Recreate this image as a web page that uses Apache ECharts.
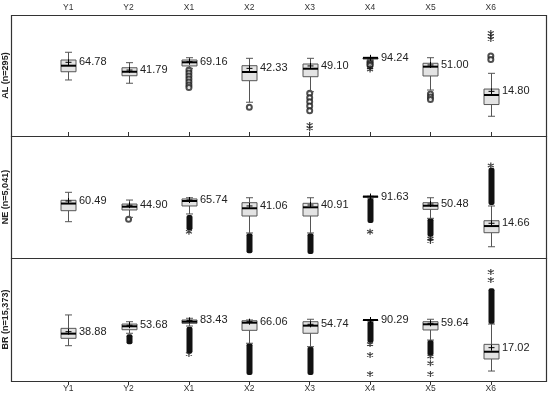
<!DOCTYPE html>
<html><head><meta charset="utf-8">
<script src="https://cdn.jsdelivr.net/npm/echarts@6/dist/echarts.min.js"></script>
<style>html,body{margin:0;padding:0;background:#fff}#c{width:550px;height:398px}</style>
</head><body><div id="c"></div>
<script>
const categories = ['Y1','Y2','X1','X2','X3','X4','X5','X6'];
const panelNames = ['AL (n=295)','NE (n=5,041)','BR (n=15,373)'];

// box stats in panel plot units: [low whisker, q1, median, q3, high whisker]
const alBoxes = [[46.3,53.1,58.1,62.8,69.2],[43.6,49.8,53.1,56.4,60.6],[55.9,57.9,60.9,62.8,64.7],[27.9,45.7,52.9,58.1,64.2],[36.6,49.0,55.6,59.5,64.2],[62.8,63.6,64.6,64.6,64.9],[38.0,49.6,57.3,60.1,64.7],[16.3,26.0,33.9,38.8,51.8]];
const alMeans = [60.9,54.5,61.4,55.9,57.9,64.6,58.7,36.9];
const alMeanLabels = ['64.78','41.79','69.16','42.33','49.10','94.24','51.00','14.80'];
const alCircles = [[2,54.5],[2,52.1],[2,49.6],[2,47.1],[2,44.6],[2,42.1],[2,40.1],[3,23.7],[4,35.3],[4,31.7],[4,28.3],[4,24.8],[4,20.9],[5,61.8],[5,60.6],[5,59.4],[5,58.2],[6,34.7],[6,32.2],[6,30.2],[7,66.1],[7,63.2]];
const alStars = [[4,9.1],[4,6.4],[5,56.6],[5,55.0],[7,85.1],[7,82.6],[7,80.2]];
const alBands = [];

const neBoxes = [[30.0,39.1,45.0,47.7,54.3],[33.6,39.7,42.4,44.6,47.9],[36.4,43.0,47.1,48.8,49.8],[20.7,34.7,41.1,45.7,49.8],[20.7,34.7,41.9,45.2,49.8],[49.6,50.2,50.8,50.8,51.0],[32.8,40.2,43.2,45.7,49.8],[9.3,20.9,26.4,30.8,43.0]];
const neMeans = [47.1,43.6,47.9,43.0,43.8,50.8,44.6,28.7];
const neMeanLabels = ['60.49','44.90','65.74','41.06','40.91','91.63','50.48','14.66'];
const neCircles = [[1,32.0]];
const neStars = [[2,21.7],[5,21.7],[6,16.0],[6,14.0],[7,76.5]];
const neBands = [[2,35.5,23.0],[3,20.4,3.9],[4,20.4,3.3],[5,49.6,28.9],[6,32.8,17.6],[7,43.8,74.5]];

const brBoxes = [[28.7,34.7,38.5,42.8,53.7],[38.8,41.7,44.5,46.3,48.2],[44.7,46.9,48.2,49.6,51.0],[30.7,41.2,47.4,49.0,49.6],[27.9,38.8,45.0,48.2,50.2],[48.8,49.2,49.6,49.6,49.9],[33.3,41.5,46.1,48.2,50.2],[8.1,17.9,23.8,29.8,46.3]];
const brMeans = [40.1,45.3,49.3,48.2,46.1,49.6,46.9,27.1];
const brMeanLabels = ['38.88','53.68','83.43','66.06','54.74','90.29','59.64','17.02'];
const brCircles = [];
const brStars = [[2,22.0],[5,30.0],[5,21.1],[5,5.7],[6,20.0],[6,14.4],[6,5.7],[7,88.6],[7,82.1]];
const brBands = [[1,38.0,29.8],[2,44.1,22.5],[3,30.7,4.9],[4,27.9,4.9],[5,48.8,31.0],[6,33.3,21.0],[7,46.3,75.4]];

const panels = [
  {boxes: alBoxes, means: alMeans, labels: alMeanLabels, circles: alCircles, stars: alStars, bands: alBands},
  {boxes: neBoxes, means: neMeans, labels: neMeanLabels, circles: neCircles, stars: neStars, bands: neBands},
  {boxes: brBoxes, means: brMeans, labels: brMeanLabels, circles: brCircles, stars: brStars, bands: brBands}
];

const FONT = 'Arial, "Liberation Sans", sans-serif';
const frames = [{top:15,h:121},{top:136,h:122},{top:258,h:123}];
const gridDefs = [{top:15,height:121},{top:137,height:121},{top:258,height:123}];
const starPath = 'path://M5,0L5,10M0.7,2.5L9.3,7.5M0.7,7.5L9.3,2.5';

const grid = gridDefs.map(g => ({left:38, right:29, top:g.top, height:g.height}));
const xAxis = gridDefs.map((g,i) => ({
  type:'category', data: categories, gridIndex:i, boundaryGap:true,
  show: i !== 1, position: i === 0 ? 'top' : 'bottom',
  axisLine:{show:false},
  axisTick:{show:true, alignWithLabel:true, length:4, lineStyle:{color:'#333'}},
  axisLabel:{fontSize:8.5, color:'#333', margin:3, fontFamily:FONT}
}));
const yAxis = gridDefs.map((g,i) => ({type:'value', gridIndex:i, min:0, max:100, show:false}));

const series = [];
panels.forEach((p, pi) => {
  const boxData = p.boxes.map((b, i) => [i, b[0], b[1], b[2], b[3], b[4], p.means[i]]);
  const labels = p.labels;
  series.push({
    type:'custom', xAxisIndex:pi, yAxisIndex:pi, data: boxData, z:3,
    encode:{x:0, y:[1,2,3,4,5,6]},
    renderItem: function(params, api){
      const xi = api.value(0);
      const lo = api.coord([xi, api.value(1)]);
      const q1 = api.coord([xi, api.value(2)]);
      const md = api.coord([xi, api.value(3)]);
      const q3 = api.coord([xi, api.value(4)]);
      const hi = api.coord([xi, api.value(5)]);
      const mn = api.coord([xi, api.value(6)]);
      const cx = Math.round(lo[0]) + 0.5;
      const hw = 7.5, cw = 3.5;
      const ls = {stroke:'#555', lineWidth:1};
      return {type:'group', children:[
        {type:'line', shape:{x1:cx,y1:hi[1],x2:cx,y2:q3[1]}, style:ls},
        {type:'line', shape:{x1:cx,y1:q1[1],x2:cx,y2:lo[1]}, style:ls},
        {type:'line', shape:{x1:cx-cw,y1:hi[1],x2:cx+cw,y2:hi[1]}, style:ls},
        {type:'line', shape:{x1:cx-cw,y1:lo[1],x2:cx+cw,y2:lo[1]}, style:ls},
        {type:'rect', shape:{x:cx-hw,y:q3[1],width:2*hw,height:Math.max(q1[1]-q3[1],0.5)}, style:{fill:'#e3e3e3', stroke:'#555', lineWidth:1}},
        {type:'line', shape:{x1:cx-hw,y1:md[1],x2:cx+hw,y2:md[1]}, style:{stroke:'#000', lineWidth:2}},
        {type:'line', shape:{x1:cx-3,y1:mn[1],x2:cx+3,y2:mn[1]}, style:{stroke:'#000', lineWidth:1}},
        {type:'line', shape:{x1:cx,y1:mn[1]-3,x2:cx,y2:mn[1]+3}, style:{stroke:'#000', lineWidth:1}},
        {type:'text', x:cx+hw+3, y:mn[1], style:{text:labels[params.dataIndex], fill:'#222', font:'11px '+FONT, textAlign:'left', textVerticalAlign:'middle'}}
      ]};
    }
  });
  series.push({
    type:'custom', xAxisIndex:pi, yAxisIndex:pi, data: p.bands, z:2,
    encode:{x:0, y:[1,2]},
    renderItem: function(params, api){
      const xi = api.value(0);
      const a = api.coord([xi, api.value(1)]);
      const b = api.coord([xi, api.value(2)]);
      const cx = Math.round(a[0]) + 0.5;
      const y0 = Math.min(a[1], b[1]), y1 = Math.max(a[1], b[1]);
      return {type:'rect', shape:{x:cx-3, y:y0, width:6, height:y1-y0, r:2}, style:{fill:'#111'}};
    }
  });
  series.push({
    type:'scatter', xAxisIndex:pi, yAxisIndex:pi, data: p.circles, symbol:'emptyCircle', symbolSize:5, z:2,
    itemStyle:{color:'#222', borderColor:'#222', borderWidth:1}, silent:true
  });
  series.push({
    type:'scatter', xAxisIndex:pi, yAxisIndex:pi, data: p.stars, symbol:starPath, symbolSize:6, z:2,
    itemStyle:{color:'none', borderColor:'#111', borderWidth:1.2}, silent:true
  });
});

const graphic = [];
frames.forEach((f, i) => {
  graphic.push({type:'rect', shape:{x:11.5, y:f.top+0.5, width:535, height:f.h}, style:{fill:'none', stroke:'#333', lineWidth:1.2}, z:10});
  graphic.push({type:'text', x:6, y:f.top + f.h/2, rotation:Math.PI/2,
    style:{text:panelNames[i], font:'bold 9px '+FONT, fill:'#222', textAlign:'center', textVerticalAlign:'middle'}, z:10});
});

const chart = echarts.init(document.getElementById('c'), null, {renderer:'canvas'});
chart.setOption({animation:false, backgroundColor:'#fff', grid, xAxis, yAxis, series, graphic});
</script></body></html>
